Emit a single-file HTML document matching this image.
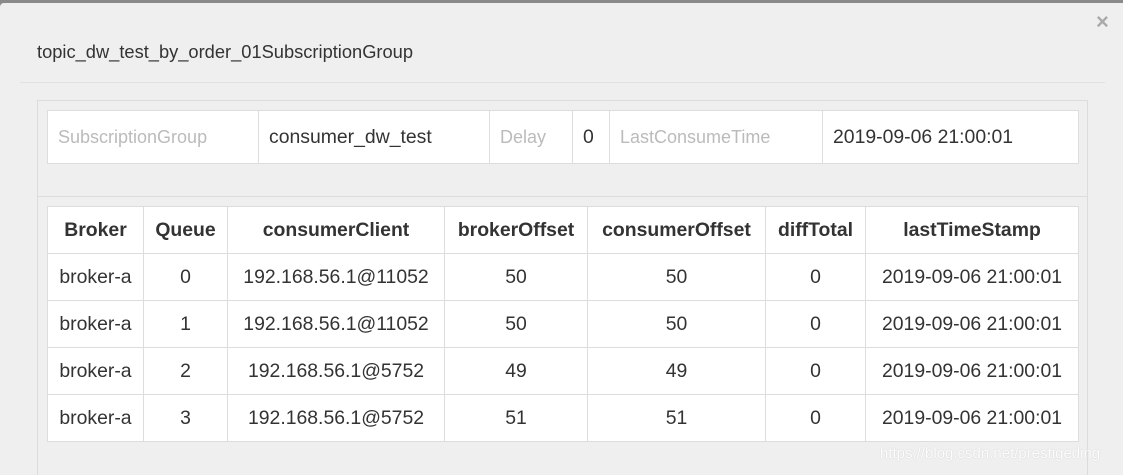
<!DOCTYPE html>
<html style="width:1123px;height:475px;overflow:hidden"><head><style>
body{margin:0;width:1123px;height:475px;overflow:hidden;background:#8a8a8a;font-family:"Liberation Sans",sans-serif;position:relative}
.modal{position:absolute;left:0;top:3px;width:1123px;height:472px;overflow:hidden;background:#efefef;border-top-left-radius:4px}
.title{position:absolute;left:37px;top:38px;font-size:18.3px;color:#333}
.close{position:absolute;left:1096px;top:6px;font-size:22px;color:#aaa;font-weight:bold}
.hr{position:absolute;left:20px;top:79px;width:1085px;height:1px;background:#e2e2e2}
.panel{position:absolute;left:37px;top:97px;width:1051px;height:375px;border:1px solid #dcdcdc;border-bottom:none;box-sizing:border-box}
.sep{position:absolute;left:38px;top:193px;width:1049px;height:1px;background:#dcdcdc}
table{position:absolute;border-collapse:collapse;background:#fff;font-size:19.4px;color:#333;table-layout:fixed}
td,th{border:1px solid #ddd;padding:0;white-space:nowrap;overflow:hidden}
#t1{left:47px;top:107px;width:1031px}
#t1 td{height:52px;padding-left:10px}
#t1 .l{color:#bbb;font-size:18px}
#t2{left:47px;top:203px;width:1031px}
#t2 td,#t2 th{height:46px;text-align:center}
#t2 th{font-weight:bold;color:#333}
.wm{position:absolute;left:880px;top:442px;font-size:15px;color:#fff;opacity:.9;text-shadow:0 0 1px #bbb}
</style></head><body>
<div class="modal">
<div class="title">topic_dw_test_by_order_01SubscriptionGroup</div>
<div class="close">×</div>
<div class="hr"></div>
<div class="panel"></div>
<div class="sep"></div>
<table id="t1"><colgroup><col style="width:211px"><col style="width:231px"><col style="width:83px"><col style="width:37px"><col style="width:213px"><col style="width:256px"></colgroup><tr>
<td class="l">SubscriptionGroup</td>
<td>consumer_dw_test</td>
<td class="l">Delay</td>
<td>0</td>
<td class="l">LastConsumeTime</td>
<td>2019-09-06 21:00:01</td></tr></table>
<table id="t2"><colgroup><col style="width:96px"><col style="width:84px"><col style="width:217px"><col style="width:143px"><col style="width:178px"><col style="width:100px"><col style="width:213px"></colgroup>
<tr><th>Broker</th><th>Queue</th><th>consumerClient</th><th>brokerOffset</th><th>consumerOffset</th><th>diffTotal</th><th>lastTimeStamp</th></tr>
<tr><td>broker-a</td><td>0</td><td>192.168.56.1@11052</td><td>50</td><td>50</td><td>0</td><td>2019-09-06 21:00:01</td></tr>
<tr><td>broker-a</td><td>1</td><td>192.168.56.1@11052</td><td>50</td><td>50</td><td>0</td><td>2019-09-06 21:00:01</td></tr>
<tr><td>broker-a</td><td>2</td><td>192.168.56.1@5752</td><td>49</td><td>49</td><td>0</td><td>2019-09-06 21:00:01</td></tr>
<tr><td>broker-a</td><td>3</td><td>192.168.56.1@5752</td><td>51</td><td>51</td><td>0</td><td>2019-09-06 21:00:01</td></tr>
</table>
<div class="wm">https://blog.csdn.net/prestigeding</div>
</div>
</body></html>
